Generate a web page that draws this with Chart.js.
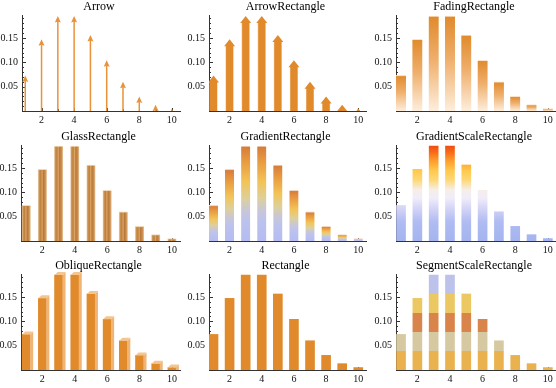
<!DOCTYPE html>
<html>
<head>
<meta charset="utf-8">
<script src="https://cdn.jsdelivr.net/npm/chart.js@4.4.1/dist/chart.umd.min.js"></script>
<style>
body{margin:0;background:#fff;width:556px;height:388px;overflow:hidden;position:relative}
.cell{position:absolute}
</style>
</head>
<body>
<script>
// values
const categories=[1,2,3,4,5,6,7,8,9,10];
const probabilities=[0.073,0.147,0.195,0.195,0.156,0.104,0.060,0.030,0.013,0.005];
const yTicks=[0.05,0.10,0.15];
const xTicks=[2,4,6,8,10];
const panelNames=["Arrow","ArrowRectangle","FadingRectangle",
  "GlassRectangle","GradientRectangle","GradientScaleRectangle",
  "ObliqueRectangle","Rectangle","SegmentScaleRectangle"];

const SERIF='"Liberation Serif","DejaVu Serif",serif';
const ORANGE='#e08a2c';
const Y_MAX=0.197;

// grid geometry
const columns=[
  {left:0,width:185,axisW:21,xMin:0.68,xMax:10.5,padR:5},
  {left:185,width:185,axisW:24,xMin:0.72,xMax:10.48,padR:4},
  {left:370,width:186,axisW:26,xMin:0.69,xMax:10.5,padR:0}
];
const rowTops=[0,130,259];

const ok=(...v)=>v.every(Number.isFinite);

/* ---------- fills ---------- */
function barGradient(fallback,stops){
  return function(c){
    if(c.type!=="data"||!c.parsed||!c.chart.scales.y) return fallback;
    const ys=c.chart.scales.y;
    const top=ys.getPixelForValue(c.parsed.y), bot=ys.getPixelForValue(0);
    if(!ok(top,bot)||top===bot) return fallback;
    const g=c.chart.ctx.createLinearGradient(0,top,0,bot);
    stops.forEach(s=>g.addColorStop(s[0],s[1]));
    return g;
  };
}
function scaleGradient(fallback,stops){
  return function(c){
    const ys=c.chart.scales.y;
    if(!ys) return fallback;
    const y0=ys.getPixelForValue(0), y1=ys.getPixelForValue(Y_MAX);
    if(!ok(y0,y1)||y0===y1) return fallback;
    const g=c.chart.ctx.createLinearGradient(0,y0,0,y1);
    stops.forEach(s=>g.addColorStop(Math.min(1,s[0]/Y_MAX),s[1]));
    return g;
  };
}
function glassGradient(w,stops){
  return function(c){
    if(c.type!=="data"||!c.parsed||!c.chart.scales.x) return "#c88a4a";
    const x=c.chart.scales.x.getPixelForValue(c.parsed.x);
    if(!ok(x)) return "#c88a4a";
    const g=c.chart.ctx.createLinearGradient(x-w/2,0,x+w/2,0);
    stops.forEach(s=>g.addColorStop(s[0],s[1]));
    return g;
  };
}

/* ---------- extra drawing on the bars ---------- */
function drawArrow(ctx,el){
  ctx.strokeStyle="#e8923a";ctx.lineWidth=1.5;
  ctx.beginPath();ctx.moveTo(el.x,el.base);ctx.lineTo(el.x,el.y+5);ctx.stroke();
  ctx.fillStyle="#e8923a";
  ctx.beginPath();ctx.moveTo(el.x,el.y);ctx.lineTo(el.x-3,el.y+6.5);
  ctx.lineTo(el.x,el.y+5.5);ctx.lineTo(el.x+3,el.y+6.5);ctx.closePath();ctx.fill();
}
function drawArrowRect(ctx,el){
  const w=3.5,hw=5.5,hh=7;
  ctx.fillStyle="#f3c28e";
  ctx.fillRect(el.x-w-0.5,el.y+hh-1,2*w+1,el.base-el.y-hh+1);
  ctx.fillStyle=ORANGE;
  ctx.fillRect(el.x-w,el.y+hh-1,2*w,el.base-el.y-hh+1);
  ctx.beginPath();ctx.moveTo(el.x,el.y);ctx.lineTo(el.x-hw,el.y+hh);ctx.lineTo(el.x+hw,el.y+hh);
  ctx.closePath();ctx.fill();
}
function drawOblique(ctx,el){
  const w=el.width/2,d=3;
  ctx.fillStyle="#f0b474";
  ctx.beginPath();ctx.moveTo(el.x+w,el.base);ctx.lineTo(el.x+w,el.y);
  ctx.lineTo(el.x+w+d,el.y-d);ctx.lineTo(el.x+w+d,el.base);ctx.closePath();ctx.fill();
  ctx.fillStyle="#f5c590";
  ctx.beginPath();ctx.moveTo(el.x-w,el.y);ctx.lineTo(el.x+w,el.y);
  ctx.lineTo(el.x+w+d,el.y-d);ctx.lineTo(el.x-w+d,el.y-d);ctx.closePath();ctx.fill();
}

const styles={
  Arrow:{thick:2,bg:"rgba(0,0,0,0)",draw:drawArrow,axisW:22,xMin:0.8},
  ArrowRectangle:{thick:7,bg:"rgba(0,0,0,0)",draw:drawArrowRect},
  FadingRectangle:{thick:10,border:"#fbe2c6",
    bg:barGradient(ORANGE,[[0,"#e08a2c"],[0.45,"#efae6a"],[1,"#fdeedc"]])},
  GlassRectangle:{thick:9,border:"#f0d8b8",
    bg:glassGradient(9,[[0,"#f0dcc4"],[0.15,"#cc9250"],[0.33,"#c08040"],[0.47,"#dca464"],
      [0.62,"#b87a3c"],[0.82,"#cc8e4e"],[1,"#e8c8a0"]])},
  GradientRectangle:{thick:9,border:"#f4d6c0",
    bg:barGradient(ORANGE,[[0,"#d57a3a"],[0.15,"#e8983f"],[0.38,"#f2c458"],[0.55,"#ddd09a"],
      [0.68,"#c8c6d8"],[0.8,"#bcc2ee"],[1,"#b4bcf2"]])},
  GradientScaleRectangle:{thick:9,
    bg:scaleGradient("#a8b8f0",[[0,"#a4b4f0"],[0.04,"#b0bcf2"],[0.065,"#d2d2f6"],[0.088,"#f0ecfa"],
      [0.105,"#f6eee8"],[0.125,"#fdd878"],[0.145,"#ffc84c"],[0.165,"#ff9c2c"],[0.182,"#f86a18"],[0.197,"#ef4a10"]])},
  ObliqueRectangle:{thick:8,bg:ORANGE,draw:drawOblique,clipTop:6},
  Rectangle:{thick:9,bg:ORANGE},
  SegmentScaleRectangle:{thick:9,
    bg:scaleGradient("#e8b04c",[[0,"#e9b24e"],[0.039,"#e9b24e"],[0.039,"#d6c9a2"],[0.078,"#d6c9a2"],
      [0.078,"#d9844a"],[0.117,"#d9844a"],[0.117,"#ebc862"],[0.1568,"#ebc862"],[0.1568,"#bcc2ea"],[0.197,"#bcc2ea"]])}
};

/* ---------- plugins ---------- */
const barExtras={id:"barExtras",afterDatasetsDraw(chart,args,opts){
  if(!opts.draw) return;
  const ctx=chart.ctx,a=chart.chartArea,ct=opts.clipTop||0;
  ctx.save();ctx.beginPath();ctx.rect(a.left,a.top-ct,a.right-a.left+10,a.bottom-a.top+ct);ctx.clip();
  chart.getDatasetMeta(0).data.forEach(el=>opts.draw(ctx,el));
  ctx.restore();
}};
const innerTicks={id:"innerTicks",beforeDatasetsDraw(chart){
  const {ctx,chartArea:a,scales:{x,y}}=chart;
  ctx.save();ctx.strokeStyle="#333";ctx.lineWidth=1;ctx.beginPath();
  for(let i=1;i<=19;i++){
    const py=Math.round(y.getPixelForValue(i/100))+0.5, len=i%5===0?4:2;
    ctx.moveTo(a.left,py);ctx.lineTo(a.left+len,py);
  }
  categories.forEach(cat=>{
    const px=Math.round(x.getPixelForValue(cat))+0.5, len=cat%2===0?3:2;
    ctx.moveTo(px,a.bottom);ctx.lineTo(px,a.bottom-len);
  });
  ctx.stroke();ctx.restore();
}};
const panelTitle={id:"panelTitle",afterDraw(chart,args,opts){
  const {ctx,chartArea:a}=chart;
  ctx.save();ctx.font="12px "+SERIF;ctx.fillStyle="#000";ctx.textAlign="center";ctx.textBaseline="alphabetic";
  ctx.fillText(opts.text,(a.left+a.right)/2-2,10);ctx.restore();
}};

/* ---------- build the nine panels ---------- */
panelNames.forEach((name,i)=>{
  const col=columns[i%3], st=styles[name];
  const axisW=st.axisW||col.axisW, xMin=st.xMin||col.xMin;
  const cell=document.createElement("div");
  cell.className="cell";
  cell.style.left=col.left+"px";cell.style.top=rowTops[Math.floor(i/3)]+"px";
  const cv=document.createElement("canvas");
  cv.width=col.width;cv.height=130;
  cell.appendChild(cv);document.body.appendChild(cell);

  new Chart(cv,{
    type:"bar",
    data:{datasets:[{
      data:categories.map((c,k)=>({x:c,y:probabilities[k]})),
      backgroundColor:st.bg,
      borderColor:st.border||"rgba(0,0,0,0)",
      borderWidth:st.border?{top:1,left:0,right:0,bottom:0}:0,
      borderSkipped:"start",
      barThickness:st.thick
    }]},
    options:{
      responsive:false,animation:false,devicePixelRatio:1,
      layout:{padding:{top:15,left:0,right:col.padR,bottom:3}},
      plugins:{legend:{display:false},tooltip:{enabled:false},
        barExtras:{draw:st.draw,clipTop:st.clipTop},
        panelTitle:{text:name}},
      scales:{
        x:{type:"linear",min:xMin,max:col.xMax,offset:false,
          grid:{display:false,drawTicks:false},
          border:{display:true,color:"#333",width:1},
          afterBuildTicks:s=>{s.ticks=xTicks.map(v=>({value:v}));},
          afterFit:s=>{s.height=16;},
          ticks:{autoSkip:false,maxRotation:0,padding:3,color:"#111",
            font:{family:SERIF,size:10},callback:v=>String(v)}},
        y:{min:0,max:Y_MAX,
          grid:{display:false,drawTicks:false},
          border:{display:true,color:"#333",width:1},
          afterBuildTicks:s=>{s.ticks=yTicks.map(v=>({value:v}));},
          afterFit:s=>{s.width=axisW;},
          ticks:{padding:4,color:"#111",font:{family:SERIF,size:10},
            callback:v=>v.toFixed(2)}}
      }
    },
    plugins:[innerTicks,barExtras,panelTitle]
  });
});
</script>
</body>
</html>
